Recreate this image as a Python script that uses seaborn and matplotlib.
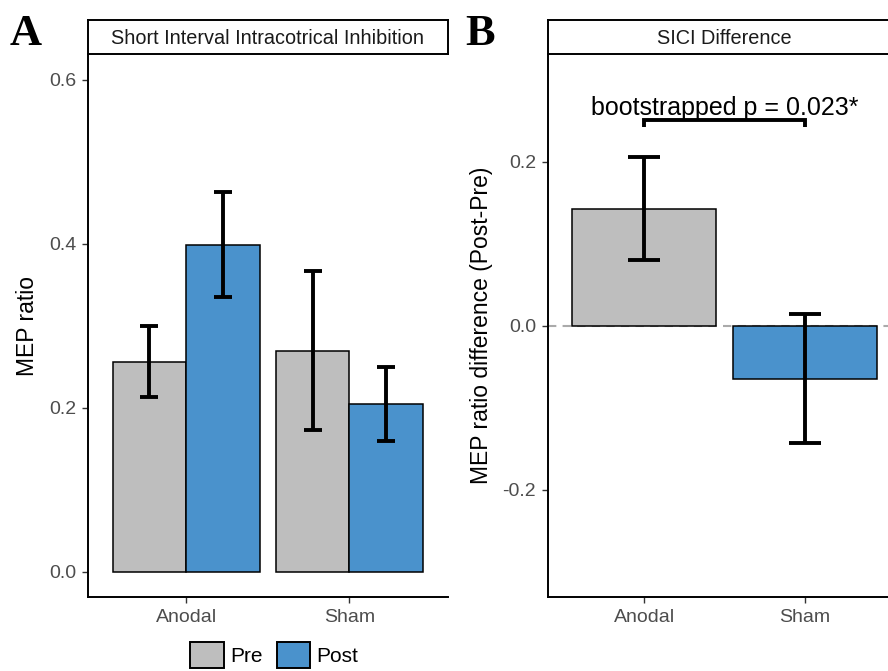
import matplotlib
matplotlib.use("Agg")
import matplotlib.pyplot as plt
import seaborn as sns
import pandas as pd
from matplotlib.patches import Patch

# ---- data -------------------------------------------------------------
conditions = ["Anodal", "Sham"]
sessions = ["Pre", "Post"]

# Panel A: SICI MEP ratio per session (mean and error-bar limits)
sici_pre = [0.256, 0.270]
sici_pre_lo = [0.213, 0.173]
sici_pre_hi = [0.300, 0.367]
sici_post = [0.399, 0.205]
sici_post_lo = [0.335, 0.160]
sici_post_hi = [0.463, 0.250]

# Panel B: Post - Pre difference
diff_mean = [0.143, -0.065]
diff_lo = [0.080, -0.143]
diff_hi = [0.206, 0.015]

a_ticks = [0.0, 0.2, 0.4, 0.6]
b_ticks = [-0.2, 0.0, 0.2]
p_label = "bootstrapped p = 0.023*"

session_colors = {"Pre": "#BEBEBE", "Post": "#4A92CC"}

# ---- style ------------------------------------------------------------
sns.set_theme(style="ticks")
plt.rcParams["font.family"] = ["Liberation Sans", "DejaVu Sans"]
plt.rcParams["text.color"] = "black"

TICK_COLOR = "#4D4D4D"
SPINE_LW = 1.4
EDGE_LW = 1.1
ERR_LW = 2.8
TICK_FS = 14

fig = plt.figure(figsize=(8.88, 6.71), dpi=100)
W, H = 888.0, 671.0


def px_box(x0, y0, x1, y1):
    return [x0 / W, 1 - y1 / H, (x1 - x0) / W, (y1 - y0) / H]


def style_axis(ax, ticks, lim):
    ax.set_ylim(*lim)
    ax.set_xlim(-0.6, 1.6)
    ax.set_yticks(ticks)
    ax.set_yticklabels([f"{t:.1f}" for t in ticks])
    for side in ("top", "right"):
        ax.spines[side].set_visible(False)
    for side in ("left", "bottom"):
        ax.spines[side].set_linewidth(SPINE_LW)
        ax.spines[side].set_color("black")
    ax.tick_params(axis="both", colors="#333333", length=4.5, width=1.0,
                   labelsize=TICK_FS, labelcolor=TICK_COLOR, pad=4)
    ax.set_xlabel("")


def add_strip(box, text):
    sax = fig.add_axes(box)
    sax.set_xticks([])
    sax.set_yticks([])
    for s in sax.spines.values():
        s.set_linewidth(SPINE_LW)
        s.set_color("black")
    sax.set_facecolor("white")
    sax.text(0.5, 0.47, text, ha="center", va="center", fontsize=14.3,
             color="#1A1A1A", transform=sax.transAxes)
    return sax


# ---- Panel A ----------------------------------------------------------
df_a = pd.DataFrame({
    "condition": conditions * 2,
    "session": ["Pre"] * 2 + ["Post"] * 2,
    "ratio": sici_pre + sici_post,
    "lo": sici_pre_lo + sici_post_lo,
    "hi": sici_pre_hi + sici_post_hi,
})

ax_a = fig.add_axes(px_box(88, 54, 447.5, 597))
sns.barplot(data=df_a, x="condition", y="ratio", hue="session",
            order=conditions, hue_order=sessions, palette=session_colors,
            saturation=1, width=0.9, errorbar=None, edgecolor="black",
            linewidth=EDGE_LW, legend=False, ax=ax_a)

for session, container in zip(sessions, ax_a.containers):
    sub = df_a[df_a["session"] == session].set_index("condition").loc[conditions]
    xs = [b.get_x() + b.get_width() / 2 for b in container]
    ys = sub["ratio"].to_numpy()
    yerr = [ys - sub["lo"].to_numpy(), sub["hi"].to_numpy() - ys]
    ax_a.errorbar(xs, ys, yerr=yerr, fmt="none", ecolor="black",
                  elinewidth=ERR_LW, capsize=6.5, capthick=ERR_LW, zorder=5)

style_axis(ax_a, a_ticks, (-0.0305, 0.6317))
ax_a.set_ylabel("MEP ratio", fontsize=16.5, color="black", labelpad=7)
add_strip(px_box(88, 20, 447.5, 54), "Short Interval Intracotrical Inhibition")

# ---- Panel B ----------------------------------------------------------
df_b = pd.DataFrame({
    "condition": conditions,
    "diff": diff_mean,
    "lo": diff_lo,
    "hi": diff_hi,
})

ax_b = fig.add_axes(px_box(548, 54, 901, 597))
ax_b.axhline(0, color="#AAAAAA", linestyle=(0, (4, 3)), linewidth=1.5, zorder=0)
sns.barplot(data=df_b, x="condition", y="diff", hue="condition",
            order=conditions, hue_order=conditions,
            palette=[session_colors["Pre"], session_colors["Post"]],
            saturation=1, width=0.9, errorbar=None, edgecolor="black",
            linewidth=EDGE_LW, legend=False, ax=ax_b)

xs_b = [p.get_x() + p.get_width() / 2 for p in ax_b.patches]
ys_b = df_b["diff"].to_numpy()
ax_b.errorbar(xs_b, ys_b,
              yerr=[ys_b - df_b["lo"].to_numpy(), df_b["hi"].to_numpy() - ys_b],
              fmt="none", ecolor="black", elinewidth=ERR_LW,
              capsize=11.5, capthick=ERR_LW, zorder=5)

# significance bracket between the two conditions
ax_b.plot([0, 0, 1, 1], [0.243, 0.251, 0.251, 0.243], color="black",
          linewidth=2.8, solid_capstyle="butt", solid_joinstyle="miter")
ax_b.text(0.5, 0.257, p_label, ha="center", va="baseline", fontsize=18,
          color="black")

style_axis(ax_b, b_ticks, (-0.3305, 0.3317))
ax_b.set_ylabel("MEP ratio difference (Post-Pre)", fontsize=16.5,
                color="black", labelpad=7)
add_strip(px_box(548, 20, 901, 54), "SICI Difference")

# ---- panel letters ----------------------------------------------------
fig.text(10 / W, 1 - 45 / H, "A", fontsize=32, fontweight="bold",
         color="black", family=["Liberation Serif", "DejaVu Serif"],
         ha="left", va="baseline")
fig.text(465 / W, 1 - 45 / H, "B", fontsize=32, fontweight="bold",
         color="black", family=["Liberation Serif", "DejaVu Serif"],
         ha="left", va="baseline")

# ---- legend -----------------------------------------------------------
handles = [Patch(facecolor=session_colors[s], edgecolor="black",
                 linewidth=1.4, label=s) for s in sessions]
fig.legend(handles=handles, loc="center", bbox_to_anchor=(274.5 / W, 1 - 655 / H),
           ncol=2, frameon=False, fontsize=15, handlelength=1.6,
           handleheight=1.6, handletextpad=0.3, columnspacing=0.7,
           borderpad=0, borderaxespad=0, labelcolor="black")

fig.savefig("out.png", dpi=100)
